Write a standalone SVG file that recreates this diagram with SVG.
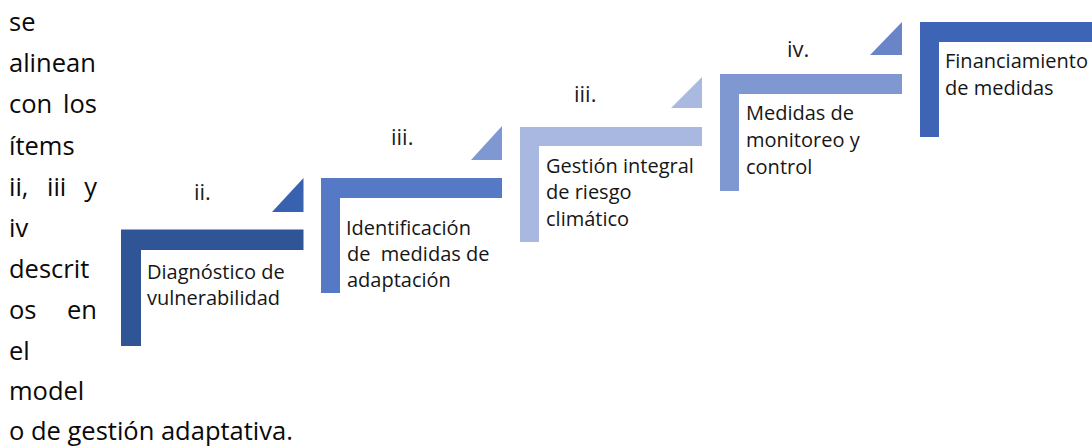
<svg xmlns="http://www.w3.org/2000/svg" width="1092" height="447" viewBox="0 0 1092 447">
  <style>
    .para { font-family: "Open Sans", "Noto Sans", "Liberation Sans", sans-serif; font-size: 25.5px; fill: #0a0a0a; }
    .lbl { font-family: "Open Sans", "Noto Sans", "Liberation Sans", sans-serif; font-size: 22px; fill: #202020; }
    .txt { font-family: "Open Sans", "Noto Sans", "Liberation Sans", sans-serif; font-size: 20px; fill: #161616; white-space: pre; }
  </style>
  <rect width="1092" height="447" fill="#ffffff"/>

  <g id="intro-text" class="para">
    <text x="9" y="31">se</text>
    <text x="9" y="72">alinean</text>
    <text y="113"><tspan x="9">con</tspan> <tspan x="97" text-anchor="end">los</tspan></text>
    <text x="9" y="155">ítems</text>
    <text y="196"><tspan x="9">ii,</tspan> <tspan x="47">iii</tspan> <tspan x="97" text-anchor="end">y</tspan></text>
    <text x="9" y="237">iv</text>
    <text x="9" y="278">descrit</text>
    <text y="319"><tspan x="9">os</tspan> <tspan x="97" text-anchor="end">en</tspan></text>
    <text x="9" y="360">el</text>
    <text x="9" y="400">model</text>
    <text x="9" y="440">o de gestión adaptativa.</text>
  </g>

  <g id="step-ii">
    <polygon points="272,212 303.5,212 303.5,178" fill="#3862AF"/>
    <text class="lbl" x="194" y="200">ii.</text>
    <path d="M121,229.5 H303.5 V250 H141 V346 H121 Z" fill="#2F5597"/>
    <text class="txt" x="147" y="279">Diagnóstico de</text>
    <text class="txt" x="147" y="305">vulnerabilidad</text>
  </g>

  <g id="step-iii-a">
    <polygon points="471,160 502,160 502,126" fill="#8098D2"/>
    <text class="lbl" x="391" y="145">iii.</text>
    <path d="M321,178 H502 V198 H340 V293 H321 Z" fill="#5579C4"/>
    <text class="txt" x="346" y="235">Identificación</text>
    <text class="txt" x="347" y="261">de  medidas de</text>
    <text class="txt" x="347" y="287">adaptación</text>
  </g>

  <g id="step-iii-b">
    <polygon points="671,108 702,108 702,77" fill="#A9B9E0"/>
    <text class="lbl" x="574" y="102">iii.</text>
    <path d="M520,127 H702 V146 H539 V242 H520 Z" fill="#A8B8E0"/>
    <text class="txt" x="546" y="173">Gestión integral</text>
    <text class="txt" x="546" y="199">de riesgo</text>
    <text class="txt" x="546" y="226">climático</text>
  </g>

  <g id="step-iv">
    <polygon points="870,55 902,55 902,22" fill="#6985C8"/>
    <text class="lbl" x="787" y="57">iv.</text>
    <path d="M720,74 H902 V94 H739 V191 H720 Z" fill="#7F98D2"/>
    <text class="txt" x="746" y="120">Medidas de</text>
    <text class="txt" x="746" y="147">monitoreo y</text>
    <text class="txt" x="746" y="174">control</text>
  </g>

  <g id="step-v">
    <path d="M920,22 H1092 V42 H939 V137 H920 Z" fill="#3E65B5"/>
    <text class="txt" x="945" y="68">Financiamiento</text>
    <text class="txt" x="945" y="95">de medidas</text>
  </g>
</svg>
